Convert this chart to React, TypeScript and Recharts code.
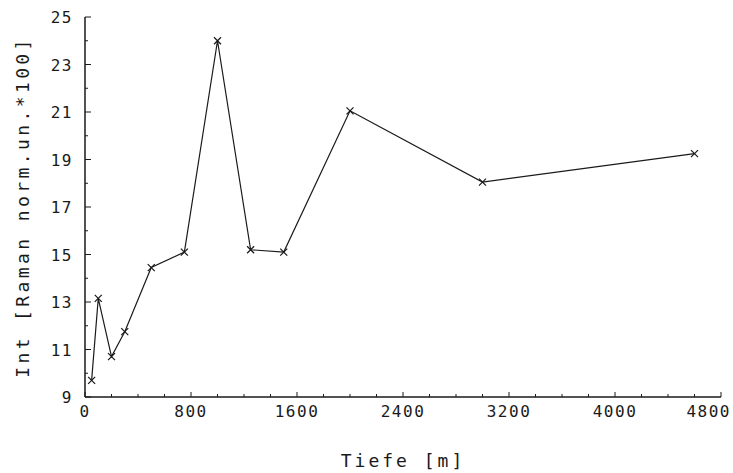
import React from "react";
import { LineChart, Line, XAxis, YAxis } from "recharts";

// Tiefe [m] vs. Raman intensity (normalised units * 100)
const depths = [50, 100, 200, 300, 500, 750, 1000, 1250, 1500, 2000, 3000, 4600];
const intensities = [9.7, 13.15, 10.7, 11.75, 14.45, 15.1, 24, 15.2, 15.1, 21.05, 18.05, 19.25];

const xMajorTicks = [0, 800, 1600, 2400, 3200, 4000, 4800];
const yMajorTicks = [9, 11, 13, 15, 17, 19, 21, 23, 25];
const xAllTicks = Array.from({ length: 25 }, (_, i) => i * 200);
const yAllTicks = Array.from({ length: 17 }, (_, i) => 9 + i);

const data = depths.map((d, i) => ({ depth: d, value: intensities[i] }));

const INK = "#1a1a1a";
const FONT = "'DejaVu Sans Mono', 'Liberation Mono', monospace";

const XTick = (props: any) => {
  const { x, y, payload } = props;
  const axisY = y - 10;
  const major = xMajorTicks.includes(payload.value);
  // the last label is pulled in so it stays on the page
  const last = payload.value === xMajorTicks[xMajorTicks.length - 1];
  return (
    <g>
      <line x1={x} x2={x} y1={axisY} y2={axisY - (major ? 5 : 3)} stroke={INK} />
      {major && (
        <text
          x={last ? x + 10 : x}
          y={axisY + 20}
          textAnchor={last ? "end" : "middle"}
          fontFamily={FONT}
          fontSize={16}
          letterSpacing={1.5}
          fill={INK}
        >
          {payload.value}
        </text>
      )}
    </g>
  );
};

const YTick = (props: any) => {
  const { x, y, payload } = props;
  const axisX = x + 12;
  const major = yMajorTicks.includes(payload.value);
  return (
    <g>
      <line x1={axisX} x2={axisX + (major ? 6 : 3)} y1={y} y2={y} stroke={INK} />
      {major && (
        <text x={x} y={y + 6} textAnchor="end" fontFamily={FONT} fontSize={16} letterSpacing={1.5} fill={INK}>
          {payload.value}
        </text>
      )}
    </g>
  );
};

const Cross = (props: any) => {
  const { cx, cy } = props;
  if (cx == null || cy == null) return null;
  const s = 3.5;
  return (
    <g>
      <line x1={cx - s} y1={cy - s} x2={cx + s} y2={cy + s} stroke={INK} strokeWidth={1.2} />
      <line x1={cx - s} y1={cy + s} x2={cx + s} y2={cy - s} stroke={INK} strokeWidth={1.2} />
    </g>
  );
};

export default function App() {
  return (
    <div style={{ position: "absolute", left: 0, top: 0, background: "#fff" }}>
      <LineChart width={733} height={473} data={data} margin={{ top: 17, right: 12, bottom: 0, left: 0 }}>
        <XAxis
          xAxisId="main"
          type="number"
          dataKey="depth"
          domain={[0, 4800]}
          ticks={xAllTicks}
          interval={0}
          tickLine={false}
          tickSize={0}
          tickMargin={10}
          tick={<XTick />}
          axisLine={{ stroke: INK, strokeWidth: 1.5 }}
          height={76}
          label={{
            value: "Tiefe [m]",
            position: "insideBottom",
            offset: 6,
            fill: INK,
            fontFamily: FONT,
            fontSize: 18,
            letterSpacing: 3,
          }}
        />
        <XAxis
          xAxisId="top"
          orientation="top"
          type="number"
          domain={[0, 4800]}
          tick={false}
          tickLine={false}
          height={0}
          axisLine={{ stroke: INK, strokeWidth: 1.5 }}
        />
        <YAxis
          yAxisId="main"
          type="number"
          domain={[9, 25]}
          ticks={yAllTicks}
          interval={0}
          tickLine={false}
          tickSize={0}
          tickMargin={12}
          tick={<YTick />}
          axisLine={{ stroke: INK, strokeWidth: 1.5 }}
          width={85}
          label={{
            value: "Int [Raman norm.un.*100]",
            angle: -90,
            position: "insideLeft",
            offset: 23,
            fill: INK,
            fontFamily: FONT,
            fontSize: 18,
            letterSpacing: 3.4,
            style: { textAnchor: "middle" },
          }}
        />
        <YAxis
          yAxisId="right"
          orientation="right"
          type="number"
          domain={[9, 25]}
          tick={false}
          tickLine={false}
          width={0}
          axisLine={{ stroke: INK, strokeWidth: 1.5 }}
        />
        <Line
          xAxisId="main"
          yAxisId="main"
          type="linear"
          dataKey="value"
          stroke={INK}
          strokeWidth={1.2}
          dot={<Cross />}
          activeDot={false}
          isAnimationActive={false}
        />
      </LineChart>
    </div>
  );
}
